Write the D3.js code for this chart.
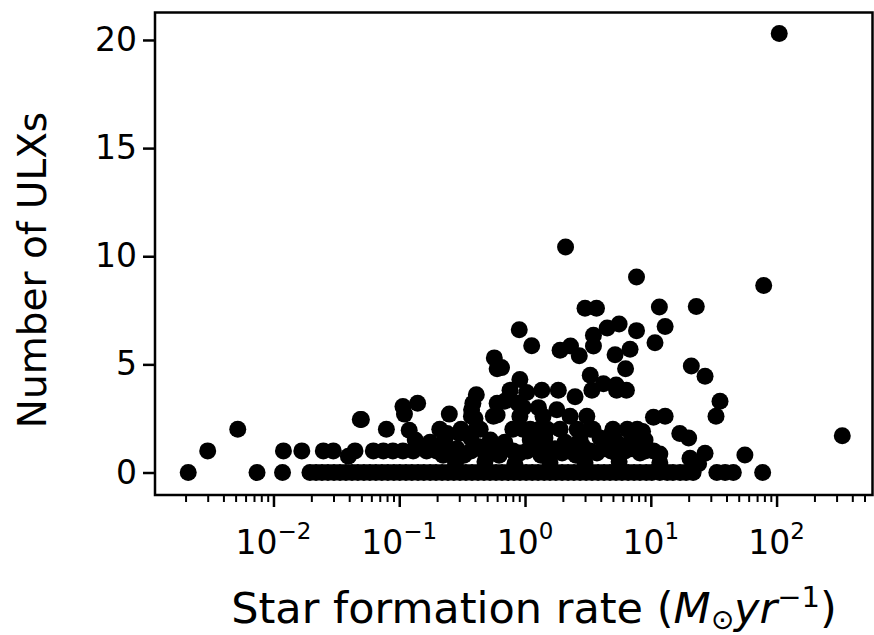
<!DOCTYPE html>
<html>
<head>
<meta charset="utf-8">
<script src="https://cdn.jsdelivr.net/npm/d3@7/dist/d3.min.js"></script>
<style>
  body { margin: 0; background: #fff; }
  svg { display: block; font-family: "DejaVu Sans", sans-serif; }
</style>
</head>
<body>
<div id="chart"></div>
<script>
// star formation rate (Msun/yr) of each galaxy
var sfr = [
    // isolated low-SFR points
    0.0021, 0.003, 0.0052, 0.0074, 0.012, 0.0118, 0.0168, 0.049,
    // zero row
    0.0195, 0.0218, 0.0243, 0.0271, 0.0303, 0.0338, 0.0377, 0.0421, 0.0469, 0.0524,
    0.0584, 0.0652, 0.0728, 0.0812, 0.0907, 0.101, 0.113, 0.126, 0.141, 0.157,
    0.176, 0.196, 0.219, 0.244, 0.272, 0.304, 0.339, 0.379, 0.423, 0.472,
    0.527, 0.588, 0.656, 0.732, 0.817, 0.912, 1.02, 1.14, 1.27, 1.42,
    1.58, 1.76, 1.97, 2.2, 2.45, 2.74, 3.06, 3.41, 3.81, 4.25,
    4.74, 5.29, 5.9, 6.6, 7.36, 8.2, 9.2, 10.2, 11.8, 13.5,
    15.0, 17.1, 19.1, 21.7, 33.5, 39, 45.3, 77.5,
    // around one
    0.0249, 0.0299, 0.0394, 0.0445, 0.0622, 0.0747, 0.089, 0.107, 0.129, 0.165,
    0.198, 0.223, 0.253, 0.288, 0.327, 0.372, 0.423, 0.48, 0.547, 0.622,
    0.707, 0.803, 0.912, 1.04, 1.18, 1.34, 1.52, 1.73, 1.97, 2.24,
    2.54, 2.89, 3.29, 3.73, 4.25, 4.83, 5.49, 6.24, 7.1, 8.2,
    9.0, 10.5, 11.8, 20.5, 27, 56,
    // half
    0.28, 0.48, 0.83, 1.58, 3.0, 5.6, 11.8, 24,
    // one and a half
    0.134, 0.176, 0.23, 0.37, 0.53, 0.69, 1.1, 1.44, 2.08, 2.74, 3.95, 5.2, 6.84, 9.0,
    // around two
    0.079, 0.12, 0.21, 0.24, 0.30, 0.31, 0.41, 0.44, 0.80, 0.96,
    1.1, 1.3, 1.5, 1.9, 2.6, 3.3, 3.47, 5.0, 4.9, 6.5,
    7.0, 7.8, 8.6, 17, 20,
    // two and a half
    0.05, 0.11, 0.25, 0.375, 0.40, 0.56, 0.6, 0.91, 1.39, 2.28, 3.1, 10.5, 13, 33,
    // three
    0.107, 0.14, 0.376, 0.385, 0.6, 0.69, 0.88, 0.97, 1.28, 1.79, 35.5,
    // upper points
    0.41, 0.76, 1.03, 1.36, 1.84, 2.5, 3.4, 5.35, 6.4,
    0.91, 3.3, 4.2, 5.3,
    0.6, 0.65, 6.3, 21, 27,
    0.57, 1.13, 1.9, 2.3, 2.7, 3.5, 5.2, 6.84, 10.8,
    0.9, 3.5, 4.5, 5.6, 7.7, 13,
    3.0, 3.7, 11.7, 23,
    7.7, 2.1, 79, 105, 333
];
// number of ULXs per galaxy, same order
var nUlx = [
    0, 1, 2, 0, 1, 0, 1, 2.45,
    0, 0, 0, 0, 0, 0, 0, 0, 0, 0,
    0, 0, 0, 0, 0, 0, 0, 0, 0, 0,
    0, 0, 0, 0, 0, 0, 0, 0, 0, 0,
    0, 0, 0, 0, 0, 0, 0, 0, 0, 0,
    0, 0, 0, 0, 0, 0, 0, 0, 0, 0,
    0, 0, 0, 0, 0, 0, 0, 0, 0, 0,
    0, 0, 0, 0, 0, 0, 0, 0,
    1, 1, 0.75, 1, 1, 1, 1, 1, 1, 1,
    1, 0.8, 1, 1.1, 0.8, 1, 1.2, 0.9, 1, 0.8,
    1.1, 1, 0.9, 1, 1.2, 0.8, 1, 1.1, 0.9, 1,
    0.8, 1.2, 1, 0.9, 1.1, 1, 0.8, 1, 1.1, 0.9,
    1, 1, 0.85, 0.66, 0.89, 0.81,
    0.45, 0.5, 0.4, 0.45, 0.45, 0.5, 0.45, 0.4,
    1.5, 1.4, 1.5, 1.6, 1.5, 1.4, 1.5, 1.6, 1.4, 1.5, 1.6, 1.5, 1.4, 1.5,
    2, 1.95, 2, 1.8, 1.8, 2.0, 2, 2, 2, 2,
    2, 2, 2, 2, 2, 2, 2, 2, 1.8, 2,
    1.8, 2, 1.9, 1.8, 1.6,
    2.45, 2.7, 2.7, 2.6, 2.5, 2.6, 2.66, 2.6, 2.6, 2.6, 2.6, 2.56, 2.6, 2.6,
    3.05, 3.2, 2.9, 3.2, 3.2, 3.3, 3.2, 3.0, 3.0, 2.9, 3.3,
    3.6, 3.8, 3.7, 3.8, 3.8, 3.5, 3.8, 3.8, 3.8,
    4.3, 4.5, 4.1, 4.05,
    4.8, 4.85, 4.8, 4.93, 4.45,
    5.3, 5.86, 5.65, 5.85, 5.4, 5.85, 5.45, 5.7, 6.0,
    6.6, 6.35, 6.68, 6.87, 6.56, 6.75,
    7.6, 7.6, 7.65, 7.68,
    9.04, 10.43, 8.65, 20.3, 1.7
];
var yTicks = [0, 5, 10, 15, 20];
var xTicks = [1e-2, 1e-1, 1e0, 1e1, 1e2];
var xTickExp = ["\u22122", "\u22121", "0", "1", "2"];

var width = 874, height = 635;
var offsets = { left: 155, right: 1.5, top: 12.5, bottom: 140 };
var plotW = width - offsets.left - offsets.right;
var plotH = height - offsets.top - offsets.bottom;

var svg = d3.select('#chart').append('svg').attr('width', width).attr('height', height);
var g = svg.append('g').attr('transform', 'translate(' + offsets.left + ',' + offsets.top + ')');

var x = d3.scaleLog().domain([0.001143, 579]).range([0, plotW]);
var y = d3.scaleLinear().domain([-1.04, 21.27]).range([plotH, 0]);

// points
var pts = sfr.map(function(d, i) { return [d, nUlx[i]]; });
g.append('g').selectAll('circle').data(pts).enter().append('circle')
    .attr('cx', function(d) { return x(d[0]); })
    .attr('cy', function(d) { return y(d[1]); })
    .attr('r', 8.5)
    .attr('fill', '#000');

// minor ticks on the log axis
var minor = [];
for (var e = -3; e <= 2; e++) {
    for (var m = 2; m <= 9; m++) {
        var v = m * Math.pow(10, e);
        if (v > x.domain()[0] && v < x.domain()[1]) minor.push(v);
    }
}
var minorAxis = g.append('g').attr('transform', 'translate(0,' + plotH + ')')
    .call(d3.axisBottom(x).tickValues(minor).tickSize(7).tickFormat(''));
minorAxis.select('.domain').remove();
minorAxis.selectAll('line').attr('stroke-width', 2);

var xAxis = g.append('g').attr('transform', 'translate(0,' + plotH + ')')
    .call(d3.axisBottom(x).tickValues(xTicks).tickSize(12).tickFormat(''));
xAxis.select('.domain').remove();
xAxis.selectAll('line').attr('stroke-width', 2.5);

// x tick labels as 10^n
var xl = g.append('g').attr('font-size', 33);
xTicks.forEach(function(t, i) {
    var txt = xl.append('text').attr('x', x(t)).attr('y', plotH + 59).attr('text-anchor', 'middle');
    txt.append('tspan').text('10');
    txt.append('tspan').attr('dy', -15).attr('font-size', 23).text(xTickExp[i]);
});

var yAxis = g.append('g').call(d3.axisLeft(y).tickValues(yTicks).tickSize(12).tickPadding(6));
yAxis.select('.domain').remove();
yAxis.selectAll('line').attr('stroke-width', 2.5);
yAxis.selectAll('text').attr('font-size', 33).attr('font-family', 'DejaVu Sans').attr('fill', '#000');

// frame
g.append('rect').attr('width', plotW).attr('height', plotH)
    .attr('fill', 'none').attr('stroke', '#000').attr('stroke-width', 2.5);

// axis titles
svg.append('text').attr('transform', 'translate(46,270) rotate(-90)')
    .attr('text-anchor', 'middle').attr('font-size', 39).text('Number of ULXs');

var xt = svg.append('text').attr('x', 534).attr('y', 623).attr('text-anchor', 'middle').attr('font-size', 43);
xt.append('tspan').text('Star formation rate (');
xt.append('tspan').attr('font-style', 'italic').text('M');
xt.append('tspan').attr('dy', 6).attr('font-size', 28).text('\u2299');
xt.append('tspan').attr('dy', -6).attr('font-style', 'italic').text('yr');
xt.append('tspan').attr('dy', -16).attr('font-size', 29).text('\u22121');
xt.append('tspan').attr('dy', 16).text(')');
</script>
</body>
</html>
